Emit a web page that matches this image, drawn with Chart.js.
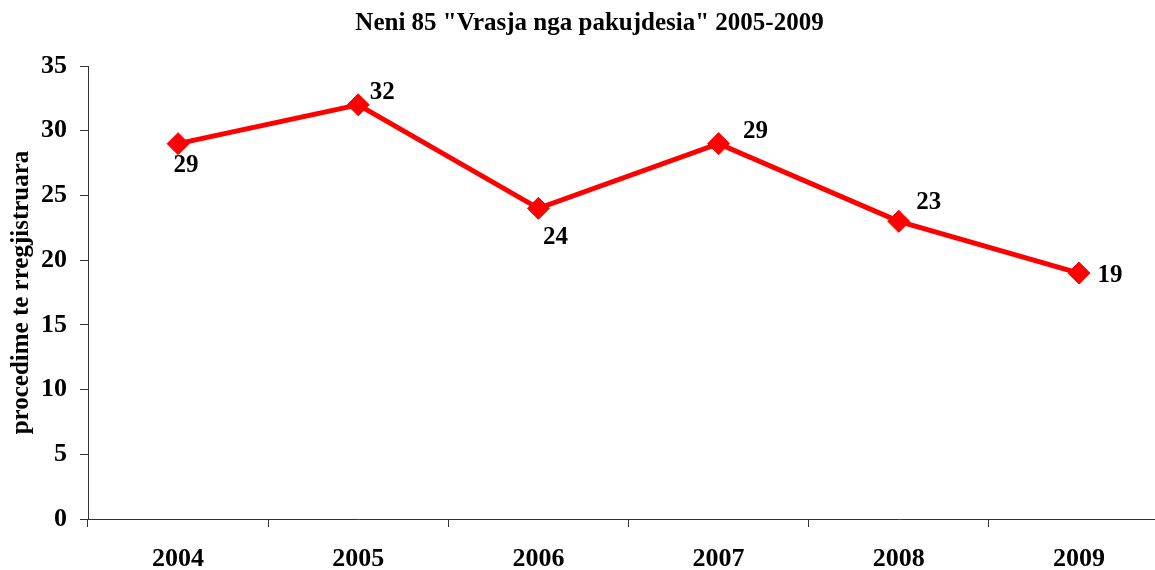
<!DOCTYPE html>
<html><head><meta charset="utf-8">
<script src="https://cdn.jsdelivr.net/npm/chart.js@4/dist/chart.umd.min.js"></script>
<style>html,body{margin:0;padding:0;overflow:hidden;background:#fff}#wrap{width:1181px;height:570px}</style>
</head><body><div id="wrap"><canvas id="c" width="1181" height="570"></canvas></div>
<script>
const categories = ['2004', '2005', '2006', '2007', '2008', '2009'];
const values = [29, 32, 24, 29, 23, 19];
const yMin = 0;
const yMax = 35;
const yStep = 5;
const titleText = 'Neni 85 "Vrasja nga pakujdesia" 2005-2009';
const yTitleText = 'procedime te rregjistruara';

const FONT = '"Liberation Serif", "Times New Roman", serif';

const labelPlugin = {
  id: 'pointLabels',
  afterDatasetsDraw(chart, args, opts) {
    const ctx = chart.ctx;
    const meta = chart.getDatasetMeta(0);
    ctx.save();
    ctx.font = 'bold ' + opts.size + 'px ' + FONT;
    ctx.fillStyle = '#000';
    ctx.textAlign = 'center';
    ctx.textBaseline = 'middle';
    meta.data.forEach((pt, i) => {
      const off = opts.offsets[i] || [0, 0];
      ctx.fillText(String(chart.data.datasets[0].data[i]), pt.x + off[0], pt.y + off[1]);
    });
    ctx.restore();
  }
};

new Chart(document.getElementById('c'), {
  type: 'line',
  data: {
    labels: categories,
    datasets: [{
      data: values,
      borderColor: '#FF0000',
      backgroundColor: '#FF0000',
      borderWidth: 5,
      tension: 0,
      pointStyle: 'rectRot',
      pointRadius: 11,
      pointHoverRadius: 11,
      pointBackgroundColor: '#FF0000',
      pointBorderColor: '#FF0000',
      pointBorderWidth: 1,
      clip: false
    }]
  },
  options: {
    responsive: false,
    animation: false,
    devicePixelRatio: 1,
    layout: { padding: { left: 0, right: 2, top: 0, bottom: 0 } },
    plugins: {
      legend: { display: false },
      tooltip: { enabled: false },
      title: {
        display: true,
        text: titleText,
        color: '#000',
        font: { family: FONT, size: 25, weight: 'bold', lineHeight: 1.2 },
        padding: { top: 9, bottom: 27 }
      },
      pointLabels: {
        size: 25,
        offsets: [[8, 22], [24, -12], [17, 29], [37, -12], [30, -19], [31, 2]]
      }
    },
    scales: {
      x: {
        type: 'category',
        offset: true,
        grid: { offset: true, drawOnChartArea: false, drawTicks: true, tickLength: 8, color: '#333' },
        border: { display: true, color: '#333', width: 1 },
        ticks: { color: '#000', font: { family: FONT, size: 26, weight: 'bold' }, padding: 17, maxRotation: 0 },
        afterFit(scale) { scale.height = 51; }
      },
      y: {
        min: yMin,
        max: yMax,
        grid: { drawOnChartArea: false, drawTicks: true, tickLength: 8, color: '#333' },
        border: { display: true, color: '#333', width: 1 },
        ticks: { stepSize: yStep, color: '#000', font: { family: FONT, size: 26, weight: 'bold' }, padding: 13 },
        title: {
          display: true,
          text: yTitleText,
          color: '#000',
          font: { family: FONT, size: 25, weight: 'bold', lineHeight: 1.2 },
          padding: { top: 7, bottom: 0 }
        },
        afterFit(scale) { scale.width = 88; }
      }
    }
  },
  plugins: [labelPlugin]
});
</script>
</body></html>
